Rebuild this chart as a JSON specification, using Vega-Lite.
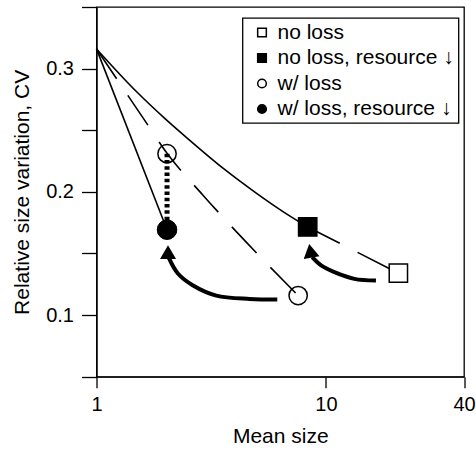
{
  "$schema": "https://vega.github.io/schema/vega-lite/v6.json",
  "autosize": {"type": "none"},
  "width": 367.5,
  "height": 369.7,
  "padding": {"left": 96.5, "top": 7, "right": 12, "bottom": 75.3},
  "background": "white",
  "config": {
    "font": "Liberation Sans",
    "view": {"stroke": "black", "strokeWidth": 1.3, "fill": "transparent"},
    "axis": {
      "domainColor": "black", "domainWidth": 1.3,
      "tickColor": "black", "tickWidth": 1.3,
      "labelColor": "black", "titleColor": "black",
      "labelFont": "Liberation Sans", "titleFont": "Liberation Sans",
      "labelFontSize": 20, "titleFontSize": 21, "titleFontWeight": "normal",
      "grid": false
    },
    "legend": {
      "strokeColor": "black", "strokeWidth": 1.3, "fillColor": "white",
      "padding": 4, "symbolOffset": 5, "labelOffset": 5, "rowPadding": 3.5,
      "labelFont": "Liberation Sans", "labelFontSize": 21, "labelColor": "black", "labelLimit": 400,
      "symbolSize": 75, "symbolStrokeColor": "black", "symbolStrokeWidth": 1.5
    }
  },
  "datasets": {
    "lines": [
      {"line": "A", "o": 1, "x": 1, "y": 0.316},
      {"line": "A", "o": 2, "x": 2.03, "y": 0.1693},
      {"line": "B", "o": 1, "x": 1, "y": 0.316},
      {"line": "B", "o": 2, "x": 1.5, "y": 0.281},
      {"line": "B", "o": 3, "x": 2, "y": 0.259},
      {"line": "B", "o": 4, "x": 2.55, "y": 0.2418},
      {"line": "B", "o": 5, "x": 3.56, "y": 0.2192},
      {"line": "B", "o": 6, "x": 4.97, "y": 0.199},
      {"line": "B", "o": 7, "x": 6.5, "y": 0.184},
      {"line": "B", "o": 8, "x": 8.33, "y": 0.1715},
      {"line": "C", "o": 1, "x": 1, "y": 0.316},
      {"line": "C", "o": 2, "x": 1.598, "y": 0.2598},
      {"line": "C", "o": 3, "x": 2.03, "y": 0.2313},
      {"line": "C", "o": 4, "x": 2.912, "y": 0.1973},
      {"line": "C", "o": 5, "x": 4.42, "y": 0.1606},
      {"line": "C", "o": 6, "x": 7.57, "y": 0.1158},
      {"line": "D", "o": 1, "x": 8.33, "y": 0.1715},
      {"line": "D", "o": 2, "x": 20.7, "y": 0.134},
      {"line": "E", "o": 1, "x": 2.03, "y": 0.231},
      {"line": "E", "o": 2, "x": 2.03, "y": 0.1693},
      {"line": "F", "o": 1, "x": 6.14, "y": 0.1126},
      {"line": "F", "o": 2, "x": 4.65, "y": 0.1131},
      {"line": "F", "o": 3, "x": 3.33, "y": 0.1158},
      {"line": "F", "o": 4, "x": 2.636, "y": 0.124},
      {"line": "F", "o": 5, "x": 2.268, "y": 0.1335},
      {"line": "F", "o": 6, "x": 2.06, "y": 0.147},
      {"line": "G", "o": 1, "x": 16.53, "y": 0.128},
      {"line": "G", "o": 2, "x": 13.3, "y": 0.1294},
      {"line": "G", "o": 3, "x": 10.89, "y": 0.1348},
      {"line": "G", "o": 4, "x": 9.53, "y": 0.1403},
      {"line": "G", "o": 5, "x": 8.72, "y": 0.147}
    ],
    "points": [
      {"series": "no loss", "x": 20.7, "y": 0.134},
      {"series": "no loss, resource ↓", "x": 8.33, "y": 0.1715},
      {"series": "w/ loss", "x": 2.03, "y": 0.231},
      {"series": "w/ loss", "x": 7.57, "y": 0.1158},
      {"series": "w/ loss, resource ↓", "x": 2.03, "y": 0.1693}
    ],
    "heads": [
      {"head": "H1", "x": 2.05, "y": 0.1511},
      {"head": "H2", "x": 8.56, "y": 0.1521}
    ]
  },
  "layer": [
    {
      "data": {"name": "lines"},
      "transform": [{"filter": "datum.line === 'A' || datum.line === 'B'"}],
      "mark": {"type": "line", "stroke": "black", "strokeWidth": 1.6, "interpolate": "monotone"},
      "encoding": {
        "x": {"field": "x", "type": "quantitative",
              "scale": {"type": "log", "domain": [1, 40], "nice": false},
              "axis": {"values": [1, 10, 40], "format": "~g", "tickSize": 11, "labelPadding": 7, "labelFlush": false, "title": "Mean size", "titlePadding": 11}},
        "y": {"field": "y", "type": "quantitative",
              "scale": {"domain": [0.05, 0.35], "nice": false, "zero": false},
              "axis": {"values": [0.05, 0.1, 0.15, 0.2, 0.25, 0.3, 0.35], "tickSize": 15, "labelPadding": 8,
                       "labelExpr": "(abs(datum.value*10 - round(datum.value*10)) < 0.001) ? format(datum.value, '.1f') : ''",
                       "title": "Relative size variation, CV", "titlePadding": 13}},
        "detail": {"field": "line"},
        "order": {"field": "o"}
      }
    },
    {
      "data": {"name": "lines"},
      "transform": [{"filter": "datum.line === 'C' || datum.line === 'D'"}],
      "mark": {"type": "line", "stroke": "black", "strokeWidth": 1.6, "strokeDash": [36, 20], "interpolate": "monotone"},
      "encoding": {
        "x": {"field": "x", "type": "quantitative"},
        "y": {"field": "y", "type": "quantitative"},
        "detail": {"field": "line"},
        "order": {"field": "o"}
      }
    },
    {
      "data": {"name": "lines"},
      "transform": [{"filter": "datum.line === 'E'"}],
      "mark": {"type": "line", "stroke": "black", "strokeWidth": 5, "strokeDash": [3.5, 2.8]},
      "encoding": {
        "x": {"field": "x", "type": "quantitative"},
        "y": {"field": "y", "type": "quantitative"},
        "order": {"field": "o"}
      }
    },
    {
      "data": {"name": "lines"},
      "transform": [{"filter": "datum.line === 'F' || datum.line === 'G'"}],
      "mark": {"type": "line", "stroke": "black", "strokeWidth": 4, "interpolate": "catmull-rom"},
      "encoding": {
        "x": {"field": "x", "type": "quantitative"},
        "y": {"field": "y", "type": "quantitative"},
        "detail": {"field": "line"},
        "order": {"field": "o"}
      }
    },
    {
      "data": {"name": "heads"},
      "transform": [{"filter": "datum.head === 'H1'"}],
      "mark": {"type": "point", "shape": "triangle-up", "filled": true, "fill": "black", "stroke": null, "size": 256, "opacity": 1},
      "encoding": {
        "x": {"field": "x", "type": "quantitative"},
        "y": {"field": "y", "type": "quantitative"}
      }
    },
    {
      "data": {"name": "heads"},
      "transform": [{"filter": "datum.head === 'H2'"}],
      "mark": {"type": "point", "shape": "triangle-up", "filled": true, "fill": "black", "stroke": null, "size": 256, "angle": -10, "opacity": 1},
      "encoding": {
        "x": {"field": "x", "type": "quantitative"},
        "y": {"field": "y", "type": "quantitative"}
      }
    },
    {
      "data": {"name": "points"},
      "mark": {"type": "point", "filled": true, "strokeWidth": 1.5, "size": 335, "opacity": 1},
      "encoding": {
        "x": {"field": "x", "type": "quantitative"},
        "y": {"field": "y", "type": "quantitative"},
        "shape": {"field": "series", "type": "nominal",
                  "scale": {"domain": ["no loss", "no loss, resource ↓", "w/ loss", "w/ loss, resource ↓"],
                            "range": ["square", "square", "circle", "circle"]},
                  "legend": {"title": null, "orient": "none", "legendX": 146, "legendY": 11}},
        "fill": {"field": "series", "type": "nominal",
                 "scale": {"domain": ["no loss", "no loss, resource ↓", "w/ loss", "w/ loss, resource ↓"],
                           "range": ["transparent", "black", "transparent", "black"]},
                 "legend": {"title": null, "orient": "none", "legendX": 146, "legendY": 11}},
        "stroke": {"field": "series", "type": "nominal",
                   "scale": {"domain": ["no loss", "no loss, resource ↓", "w/ loss", "w/ loss, resource ↓"],
                             "range": ["black", "black", "black", "black"]},
                   "legend": {"title": null, "orient": "none", "legendX": 146, "legendY": 11}}
      }
    },
    {
      "data": {"name": "points"},
      "transform": [{"filter": "datum.series === 'w/ loss, resource ↓'"}],
      "mark": {"type": "point", "shape": "circle", "filled": true, "fill": "black", "stroke": "black", "strokeWidth": 1, "size": 380, "opacity": 1},
      "encoding": {
        "x": {"field": "x", "type": "quantitative"},
        "y": {"field": "y", "type": "quantitative"}
      }
    }
  ]
}
